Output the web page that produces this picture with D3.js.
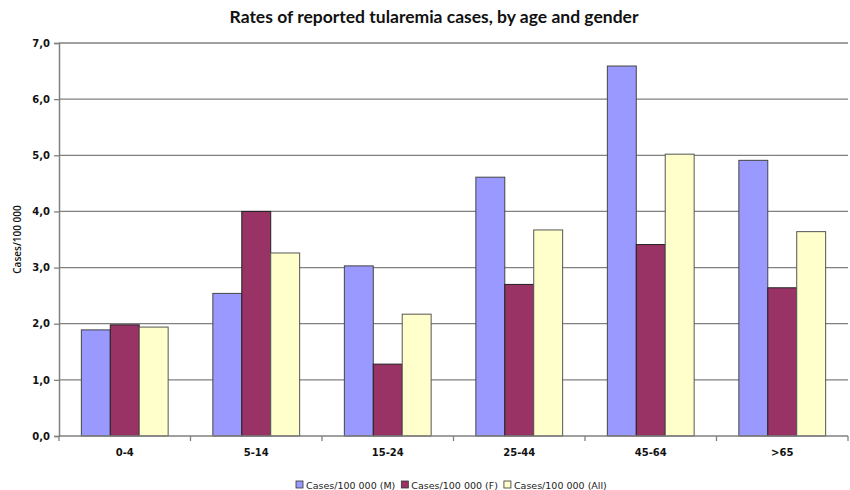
<!DOCTYPE html>
<html><head><meta charset="utf-8">
<script src="https://cdn.jsdelivr.net/npm/d3@7"></script>
<style>body{margin:0;background:#fff}svg{display:block}</style>
</head><body>
<svg id="chart" width="850" height="490"></svg>
<script>
const categories = ["0-4","5-14","15-24","25-44","45-64",">65"];
const seriesNames = ["Cases/100 000 (M)","Cases/100 000 (F)","Cases/100 000 (All)"];
const male = [1.89, 2.54, 3.03, 4.61, 6.59, 4.91];
const female = [1.98, 4.00, 1.28, 2.70, 3.41, 2.64];
const all = [1.94, 3.26, 2.17, 3.67, 5.02, 3.64];
const yTicks = [0,1,2,3,4,5,6,7];
const colors = ["#9999ff","#993366","#ffffcc"];
const strokes = ["#444","#222","#555"];

const svg = d3.select("#chart");
const m = {left:59, right:2, top:43, bottom:54};
const W = 850, H = 490;
const x0 = d3.scaleBand().domain(categories).range([m.left, W - m.right]).paddingInner(0).paddingOuter(0);
const y = d3.scaleLinear().domain([0,7]).range([H - m.bottom, m.top]);
const bw = x0.bandwidth() * 0.22;
const gOff = (x0.bandwidth() - 3*bw)/2;
const values = [male, female, all];

// gridlines
svg.append("g").selectAll("line").data(yTicks.slice(1)).join("line")
  .attr("x1", m.left).attr("x2", W - m.right)
  .attr("y1", d => y(d)).attr("y2", d => y(d))
  .attr("stroke", "#808080").attr("stroke-width", 1.3);

// bars
values.forEach((vals, si) => {
  svg.append("g").selectAll("rect").data(vals).join("rect")
    .attr("x", (d,i) => x0(categories[i]) + gOff + si*bw)
    .attr("y", d => y(d))
    .attr("width", bw)
    .attr("height", d => y(0) - y(d))
    .attr("fill", colors[si])
    .attr("stroke", strokes[si]).attr("stroke-width", 1);
});

// y axis
const yAxis = d3.axisLeft(y).tickValues(yTicks).tickFormat(d => d.toFixed(1).replace(".", ",")).tickSize(5).tickPadding(4);
const ya = svg.append("g").attr("transform", `translate(${m.left},0)`).call(yAxis);
ya.select(".domain").attr("stroke", "#808080").attr("stroke-width", 1.5);
ya.selectAll(".tick line").attr("stroke", "#808080").attr("stroke-width", 1.3);
ya.selectAll("text").attr("font-family", "Verdana, 'DejaVu Sans', sans-serif").attr("font-weight", "bold").attr("font-size", 10).attr("fill", "#111");

// x axis
const xa = svg.append("g").attr("transform", `translate(0,${y(0)})`);
xa.append("line").attr("x1", m.left).attr("x2", W - m.right).attr("stroke", "#808080").attr("stroke-width", 1.5);
xa.selectAll("line.tk").data(categories.map((c,i)=>i).concat([categories.length])).join("line").attr("class","tk")
  .attr("x1", i => i < categories.length ? x0(categories[i]) : x0.range()[1])
  .attr("x2", i => i < categories.length ? x0(categories[i]) : x0.range()[1])
  .attr("y1", 0).attr("y2", 5).attr("stroke", "#808080").attr("stroke-width", 1.3);
xa.selectAll("text").data(categories).join("text")
  .attr("x", d => x0(d) + x0.bandwidth()/2).attr("y", 20)
  .attr("text-anchor", "middle")
  .attr("font-family", "Verdana, 'DejaVu Sans', sans-serif").attr("font-weight", "bold").attr("font-size", 10).attr("fill", "#111")
  .text(d => d);

// y title
svg.append("text").attr("transform", `translate(21,${(y(0)+y(7))/2}) rotate(-90)`)
  .attr("text-anchor", "middle").attr("font-family", "'Open Sans', sans-serif").attr("font-weight", 600).attr("font-size", 10).attr("fill", "#111")
  .text("Cases/100 000");

// title
svg.append("text").attr("x", 434).attr("y", 23).attr("text-anchor", "middle")
  .attr("font-family", "Lato, 'Open Sans', sans-serif").attr("font-weight", "bold").attr("font-size", 17.5).attr("fill", "#111")
  .text("Rates of reported tularemia cases, by age and gender");

// legend
const lg = svg.append("g").attr("transform", "translate(296,485)");
let lx = 0;
seriesNames.forEach((n, i) => {
  const g = lg.append("g").attr("transform", `translate(${lx},0)`);
  g.append("rect").attr("x", 0).attr("y", -4).attr("width", 7).attr("height", 7)
    .attr("fill", colors[i]).attr("stroke", "#333").attr("stroke-width", 0.8);
  const t = g.append("text").attr("x", 10).attr("y", 3.5)
    .attr("font-family", "Verdana, 'DejaVu Sans', sans-serif").attr("font-size", 9.5).attr("fill", "#222").text(n);
  lx += 10 + t.node().getComputedTextLength() + 6;
});
</script>
</body></html>
